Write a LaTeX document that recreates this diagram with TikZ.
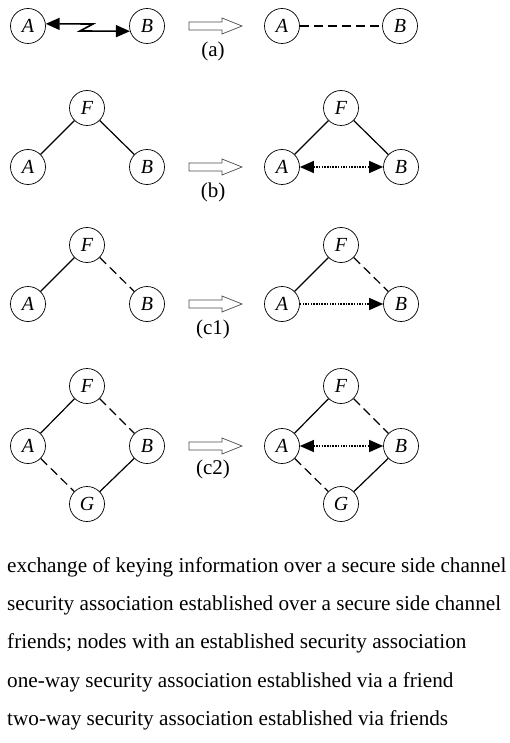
\documentclass[tikz,border=0pt]{standalone}
\usepackage{fontspec}
\setmainfont{Liberation Serif}
\usetikzlibrary{arrows.meta}
\begin{document}
\begin{tikzpicture}[x=1pt,y=-1pt,>={Triangle[length=14pt,width=12pt]}]
  \tikzstyle{peer}=[circle,draw,line width=0.7pt,minimum size=35pt,inner sep=0pt,font=\fontsize{20}{20}\selectfont\itshape]
  \tikzstyle{friend}=[line width=1.2pt]
  \tikzstyle{side}=[line width=1.2pt,dash pattern=on 9pt off 5pt]
  \tikzstyle{via}=[line width=1.3pt,dash pattern=on 1.5pt off 1.2pt]
  \tikzstyle{keying}=[line width=1.6pt,line join=miter]
  \tikzstyle{turn}=[draw=black!70,line width=0.7pt,line join=miter]
  \tikzstyle{case}=[font=\fontsize{21}{21}\selectfont,anchor=base]
  \tikzstyle{legend}=[font=\fontsize{21.2}{21.2}\selectfont,anchor=base west,inner sep=0pt]
  \useasboundingbox (0,0) rectangle (509,743);

  % (a)
  \node[peer] (alA) at (28,26) {A};
  \node[peer] (alB) at (147,26) {B};
  \node[peer] (arA) at (282,26) {A};
  \node[peer] (arB) at (400,26) {B};
  \node[case] (acase) at (213,57) {(a)};
  \draw[keying,<->] (alA.7) -- (93,24) -- (80,31) -- (alB.197);
  \draw[side] (arA) -- (arB);

  % (b), (c1), (c2)
  \foreach \s/\dx in {l/0,r/254} {
    \node[peer] (b\s F) at (87+\dx,108) {F};
    \node[peer] (b\s A) at (28+\dx,167) {A};
    \node[peer] (b\s B) at (147+\dx,167) {B};
    \node[peer] (c\s F) at (87+\dx,245) {F};
    \node[peer] (c\s A) at (28+\dx,304) {A};
    \node[peer] (c\s B) at (147+\dx,304) {B};
    \node[peer] (d\s F) at (87+\dx,386) {F};
    \node[peer] (d\s A) at (28+\dx,446) {A};
    \node[peer] (d\s B) at (147+\dx,446) {B};
    \node[peer] (d\s G) at (87+\dx,504) {G};
  }
  \foreach \s in {l,r} {
    \draw[friend] (b\s F) -- (b\s A);
    \draw[friend] (b\s F) -- (b\s B);
    \draw[friend] (c\s F) -- (c\s A);
    \draw[side] (c\s F) -- (c\s B);
    \draw[friend] (d\s F) -- (d\s A);
    \draw[side] (d\s F) -- (d\s B);
    \draw[side] (d\s A) -- (d\s G);
    \draw[friend] (d\s G) -- (d\s B);
  }
  \draw[via,<->] (brA) -- (brB);
  \draw[via,->] (crA) -- (crB);
  \draw[via,<->] (drA) -- (drB);

  % hollow arrows between the two halves
  \foreach \y in {26,167,304,446}
    \draw[turn] (189,\y-4) -- (222,\y-4) -- (222,\y-8) -- (242,\y) -- (222,\y+8) -- (222,\y+4) -- (189,\y+4) -- cycle;

  \node[case] (bcase) at (213,197) {(b)};
  \node[case] (ccase) at (213,334) {(c1)};
  \node[case] (dcase) at (213,474) {(c2)};

  % legend
  \node[legend] (leg1) at (7,572) {exchange of keying information over a secure side channel};
  \node[legend] (leg2) at (7,610) {security association established over a secure side channel};
  \node[legend] (leg3) at (7,648) {friends; nodes with an established security association};
  \node[legend] (leg4) at (7,687) {one-way security association established via a friend};
  \node[legend] (leg5) at (7,725) {two-way security association established via friends};
\end{tikzpicture}
\end{document}
